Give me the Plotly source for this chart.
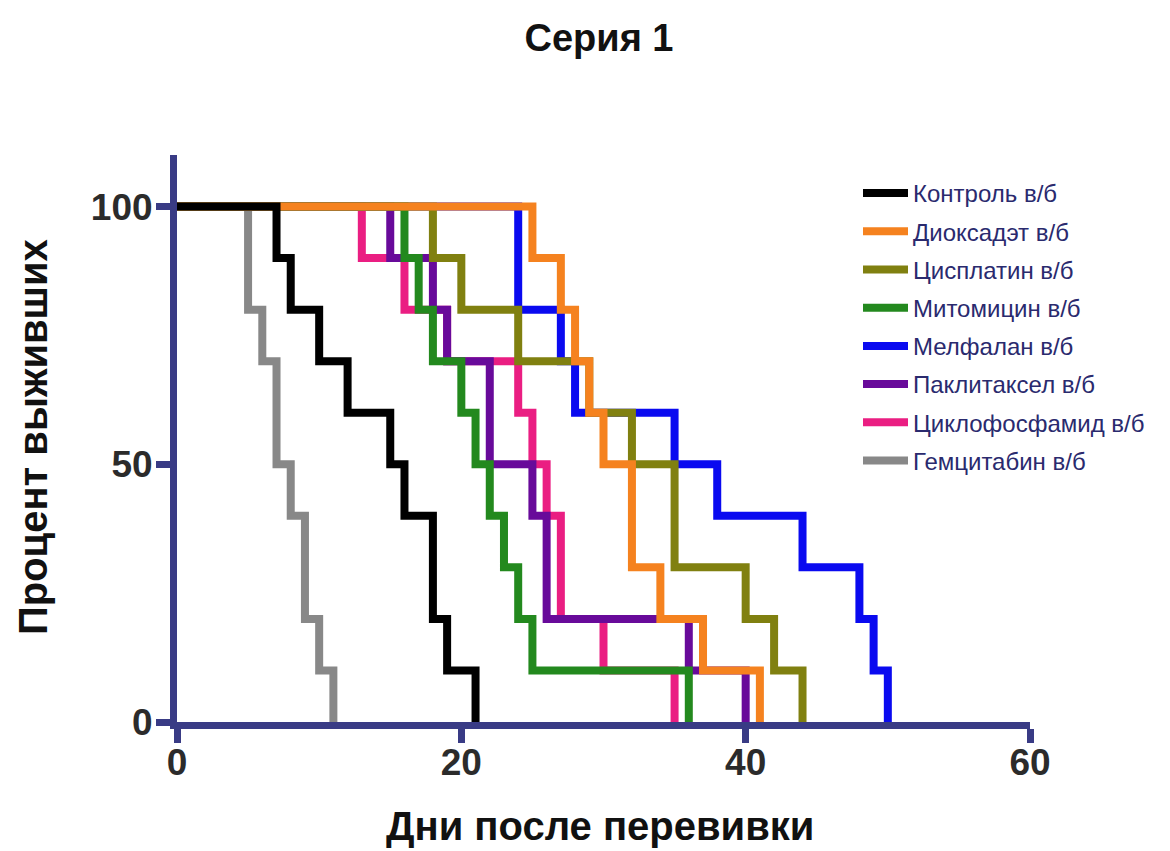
import plotly.graph_objects as go

# Kaplan–Meier style survival data (day of event, % surviving after event)
names = ["Контроль в/б", "Диоксадэт в/б", "Цисплатин в/б", "Митомицин в/б",
         "Мелфалан в/б", "Паклитаксел в/б", "Циклофосфамид в/б", "Гемцитабин в/б"]

control_t = [0, 7, 8, 10, 12, 15, 16, 18, 19, 21]
control_s = [100, 90, 80, 70, 60, 50, 40, 20, 10, 0]

dioxadet_t = [0, 25, 27, 28, 29, 30, 32, 34, 37, 41]
dioxadet_s = [100, 90, 80, 70, 60, 50, 30, 20, 10, 0]

cisplatin_t = [0, 18, 20, 24, 29, 32, 35, 40, 42, 44]
cisplatin_s = [100, 90, 80, 70, 60, 50, 30, 20, 10, 0]

mitomycin_t = [0, 16, 17, 18, 20, 21, 22, 23, 24, 25, 36]
mitomycin_s = [100, 90, 80, 70, 60, 50, 40, 30, 20, 10, 0]

melphalan_t = [0, 24, 27, 28, 35, 38, 44, 48, 49, 50]
melphalan_s = [100, 80, 70, 60, 50, 40, 30, 20, 10, 0]

paclitaxel_t = [0, 15, 18, 19, 22, 25, 26, 36, 40]
paclitaxel_s = [100, 90, 80, 70, 50, 40, 20, 10, 0]

cyclophosphamide_t = [0, 13, 16, 19, 24, 25, 26, 27, 30, 35]
cyclophosphamide_s = [100, 90, 80, 70, 60, 50, 40, 20, 10, 0]

gemcitabine_t = [0, 5, 6, 7, 8, 9, 10, 11]
gemcitabine_s = [100, 80, 70, 50, 40, 20, 10, 0]

x_ticks = [0, 20, 40, 60]
y_ticks = [0, 50, 100]

series = [
    (control_t, control_s, "#000000"),
    (dioxadet_t, dioxadet_s, "#F5821F"),
    (cisplatin_t, cisplatin_s, "#808010"),
    (mitomycin_t, mitomycin_s, "#23891E"),
    (melphalan_t, melphalan_s, "#0A0AF0"),
    (paclitaxel_t, paclitaxel_s, "#680A9A"),
    (cyclophosphamide_t, cyclophosphamide_s, "#EA1E82"),
    (gemcitabine_t, gemcitabine_s, "#888888"),
]

fig = go.Figure()
# draw in reverse so the first series is on top
for i in reversed(range(len(series))):
    t, s, c = series[i]
    fig.add_trace(go.Scatter(
        x=t, y=s, mode="lines", name=names[i],
        line=dict(color=c, width=8, shape="hv"),
        legendgroup=f"g{i}", legendrank=i + 1,
    ))

axis_color = "#393B85"
font_family = "Liberation Sans, Arial, sans-serif"

# figure coordinates (page shows the figure offset by the 8px body margin)
W, H = 1162, 843
L, R, T, B = 169, 140, 147, 129
PW, PH = W - L - R, H - T - B


def px_x(x):
    return (x - L) / PW


def px_y(y):
    return (H - B - y) / PH


fig.update_layout(
    width=W, height=H,
    paper_bgcolor="white", plot_bgcolor="white",
    margin=dict(l=L, r=R, t=T, b=B, autoexpand=False),
    font=dict(family=font_family),
    title=dict(text="<b>Серия 1</b>", x=591 / W, xanchor="center", y=1 - 30 / H,
               yanchor="middle", font=dict(size=38, color="#111111")),
    showlegend=True,
    legend=dict(x=px_x(850), y=px_y(163), xanchor="left", yanchor="top",
                traceorder="grouped", tracegroupgap=4,
                font=dict(size=24, color="#2A2A6E", family=font_family),
                itemwidth=45, bgcolor="rgba(0,0,0,0)"),
    annotations=[
        dict(text="<b>Дни после перевивки</b>", xref="paper", yref="paper",
             x=px_x(592), y=px_y(818), xanchor="center", yanchor="middle",
             showarrow=False, font=dict(size=40, color="#111111")),
        dict(text="<b>Процент выживших</b>", xref="paper", yref="paper",
             x=px_x(25), y=px_y(429), xanchor="center", yanchor="middle",
             textangle=-90, showarrow=False, font=dict(size=40, color="#111111")),
    ],
)

fig.update_xaxes(
    range=[0, 60], tickvals=x_ticks, ticktext=[str(v) for v in x_ticks],
    showline=True, linewidth=7, linecolor=axis_color,
    ticks="outside", ticklen=14, tickwidth=7, tickcolor=axis_color,
    showgrid=False, zeroline=False, automargin=False, ticklabelstandoff=-12,
    tickfont=dict(size=37, color="#2b2b2b", family=font_family, weight="bold"),
)
fig.update_yaxes(
    range=[0, 110], tickvals=y_ticks, ticktext=[str(v) for v in y_ticks],
    showline=True, linewidth=7, linecolor=axis_color,
    ticks="outside", ticklen=14, tickwidth=7, tickcolor=axis_color,
    showgrid=False, zeroline=False, automargin=False, ticklabelstandoff=-4,
    tickfont=dict(size=37, color="#2b2b2b", family=font_family, weight="bold"),
)

fig.write_html("out.html")
